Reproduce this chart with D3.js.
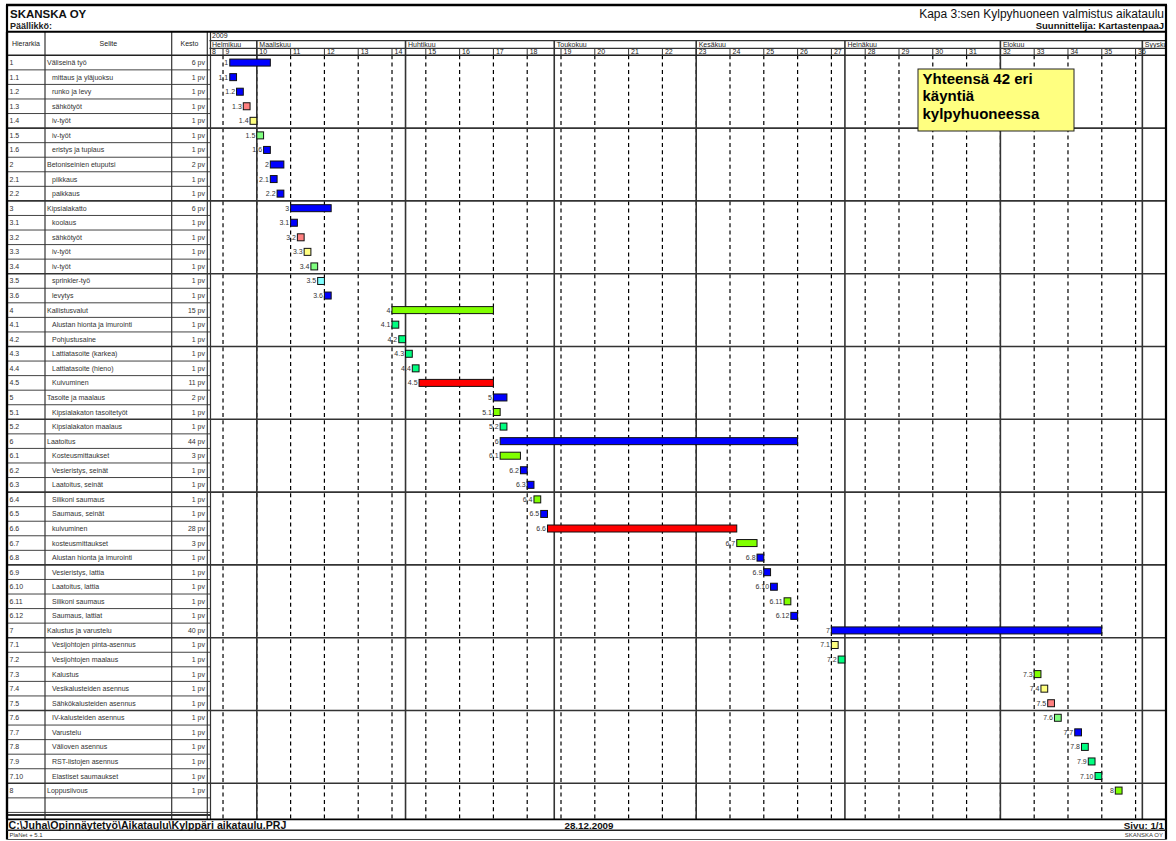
<!DOCTYPE html>
<html><head><meta charset="utf-8">
<script src="https://cdn.jsdelivr.net/npm/d3@7"></script>
<style>
body{margin:0;background:#fff}
text{font-family:"Liberation Sans",Arial,sans-serif}
</style>
</head><body>
<svg id="c" width="1176" height="841"></svg>
<script>
// ---------- data ----------
const ids = ["1","1.1","1.2","1.3","1.4","1.5","1.6","2","2.1","2.2","3","3.1","3.2","3.3","3.4","3.5","3.6",
  "4","4.1","4.2","4.3","4.4","4.5","5","5.1","5.2","6","6.1","6.2","6.3","6.4","6.5","6.6","6.7","6.8","6.9",
  "6.10","6.11","6.12","7","7.1","7.2","7.3","7.4","7.5","7.6","7.7","7.8","7.9","7.10","8"];
const descriptions = ["Väliseinä työ","mittaus ja yläjuoksu","runko ja levy","sähkötyöt","iv-työt","iv-työt",
  "eristys ja tuplaus","Betoniseinien etuputsi","piikkaus","paikkaus","Kipsialakatto","koolaus","sähkötyöt",
  "iv-työt","iv-työt","sprinkler-työ","levytys","Kallistusvalut","Alustan hionta ja imurointi","Pohjustusaine",
  "Lattiatasoite (karkea)","Lattiatasoite (hieno)","Kuivuminen","Tasoite ja maalaus","Kipsialakaton tasoitetyöt",
  "Kipsialakaton maalaus","Laatoitus","Kosteusmittaukset","Vesieristys, seinät","Laatoitus, seinät",
  "Silikoni saumaus","Saumaus, seinät","kuivuminen","kosteusmittaukset","Alustan hionta ja imurointi",
  "Vesieristys, lattia","Laatoitus, lattia","Silikoni saumaus","Saumaus, lattiat","Kalustus ja varustelu",
  "Vesijohtojen pinta-asennus","Vesijohtojen maalaus","Kalustus","Vesikalusteiden asennus",
  "Sähkökalusteiden asennus","IV-kalusteiden asennus","Varustelu","Välioven asennus","RST-listojen asennus",
  "Elastiset saumaukset","Loppusiivous"];
const durations = [6,1,1,1,1,1,1,2,1,1,6,1,1,1,1,1,1,15,1,1,1,1,11,2,1,1,44,3,1,1,1,1,28,3,1,1,1,1,1,40,
  1,1,1,1,1,1,1,1,1,1,1];
const startDates = ["2009-02-24","2009-02-24","2009-02-25","2009-02-26","2009-02-27","2009-03-02","2009-03-03",
  "2009-03-04","2009-03-04","2009-03-05","2009-03-09","2009-03-09","2009-03-10","2009-03-11","2009-03-12",
  "2009-03-13","2009-03-16","2009-03-30","2009-03-30","2009-03-31","2009-04-01","2009-04-02","2009-04-03",
  "2009-04-20","2009-04-20","2009-04-21","2009-04-21","2009-04-21","2009-04-24","2009-04-27","2009-04-28",
  "2009-04-29","2009-04-30","2009-06-09","2009-06-12","2009-06-15","2009-06-16","2009-06-18","2009-06-19",
  "2009-06-29","2009-06-29","2009-06-30","2009-08-10","2009-08-11","2009-08-12","2009-08-13","2009-08-18",
  "2009-08-19","2009-08-20","2009-08-21","2009-08-26"];
const barTypes = ["b","b","b","p","y","l","b","b","b","b","b","b","p","y","l","c","b",
  "g","s","s","s","s","r","b","g","s","b","g","b","b","g","b","r","g","b","b",
  "b","g","b","b","y","s","g","y","p","l","b","s","s","s","g"];
const typeKeys = ["b","r","g","s","p","y","l","c"];
const typeColors = ["#0000ff","#ff0000","#80ff00","#00ff80","#ff8080","#ffff80","#80ff80","#80ffff"];
const weeks = [8,9,10,11,12,13,14,15,16,17,18,19,20,21,22,23,24,25,26,27,28,29,30,31,32,33,34,35,36];
const monthNames = ["Helmikuu","Maaliskuu","Huhtikuu","Toukokuu","Kesäkuu","Heinäkuu","Elokuu","Syyskuu"];
const monthStarts = ["2009-02-01","2009-03-01","2009-04-01","2009-05-01","2009-06-01","2009-07-01","2009-08-01","2009-09-01"];
const noteLines = ["Yhteensä 42 eri","käyntiä","kylpyhuoneessa"];

// ---------- helpers ----------
const parse = d3.timeParse("%Y-%m-%d");
const base = new Date(2009,1,16); // Monday of week 8
function wd(date){ // working-day index since base
  const days = d3.timeDay.count(base, date);
  const w = Math.floor(days/7), r = ((days%7)+7)%7;
  return 5*w + Math.min(r,5);
}
const L=7, R=1166, T=5, B=839.5;
const colX=[L,45,171.7,207.3];
const chartL=209.5;
const yHead=31.7, yMonth=40.7, yWeek=48.3, yBody=55.3, rowH=14.56, yBodyEnd=819.3;

const x = d3.scaleLinear().domain([3,144.5]).range([chartL,R]);
const y = d3.scaleBand().domain(ids).range([yBody, yBody+ids.length*rowH]);
const color = d3.scaleOrdinal().domain(typeKeys).range(typeColors);

const svg = d3.select("#c");
svg.append("defs").append("clipPath").attr("id","hc").append("rect")
  .attr("x",chartL).attr("y",yHead).attr("width",R-chartL).attr("height",yBody-yHead);

// ---------- chart grid ----------
const g = svg.append("g");
weeks.slice(1).forEach(w=>{
  const xx = x((w-8)*5);
  g.append("line").attr("x1",xx).attr("x2",xx).attr("y1",yBody).attr("y2",yBodyEnd)
    .attr("stroke","#000").attr("stroke-width",1.2).attr("stroke-dasharray","4,3.3");
  g.append("line").attr("x1",xx).attr("x2",xx).attr("y1",yWeek).attr("y2",yBody)
    .attr("stroke","#333").attr("stroke-width",1);
});
const monthIdx = monthStarts.map(s=>Math.max(3,wd(parse(s))));
monthIdx.forEach((mi,i)=>{
  if(i===0) return;
  const xx = x(mi);
  g.append("line").attr("x1",xx).attr("x2",xx).attr("y1",yMonth).attr("y2",yBodyEnd)
    .attr("stroke","#333").attr("stroke-width",1.6);
});

// table rows thin lines
for(let i=1;i<=ids.length+1;i++){
  const yy = yBody+i*rowH;
  if(i%5===0 && i<=ids.length) continue;
  svg.append("line").attr("x1",L).attr("x2",chartL+1).attr("y1",yy).attr("y2",yy)
    .attr("stroke","#444").attr("stroke-width",1);
}
svg.append("line").attr("x1",L).attr("x2",chartL+1).attr("y1",815).attr("y2",815)
  .attr("stroke","#333").attr("stroke-width",1.8);
for(let i=5;i<=ids.length;i+=5){
  const yy = yBody+i*rowH;
  svg.append("line").attr("x1",L).attr("x2",R).attr("y1",yy).attr("y2",yy)
    .attr("stroke","#333").attr("stroke-width",1.6);
}

// table column lines
colX.forEach((cx,i)=>{
  svg.append("line").attr("x1",cx).attr("x2",cx).attr("y1",yHead).attr("y2",yBodyEnd)
    .attr("stroke",i===0?"#000":"#333").attr("stroke-width",i===0?2.2:1.2);
});
svg.append("line").attr("x1",chartL+1).attr("x2",chartL+1).attr("y1",yHead).attr("y2",yBodyEnd)
  .attr("stroke","#333").attr("stroke-width",1.2);

// header horizontal lines
svg.append("line").attr("x1",chartL).attr("x2",R).attr("y1",yMonth).attr("y2",yMonth).attr("stroke","#333").attr("stroke-width",1.2);
svg.append("line").attr("x1",chartL).attr("x2",R).attr("y1",yWeek).attr("y2",yWeek).attr("stroke","#333").attr("stroke-width",1.2);
svg.append("line").attr("x1",L).attr("x2",R).attr("y1",yBody).attr("y2",yBody).attr("stroke","#222").attr("stroke-width",1.6);

// header texts
const hdr = svg.append("g").attr("font-size",7).attr("fill","#222").attr("clip-path","url(#hc)");
hdr.append("text").attr("x",chartL+2.5).attr("y",38.3).text("2009");
monthNames.forEach((m,i)=>{
  hdr.append("text").attr("x",x(monthIdx[i])+2.5).attr("y",47).text(m);
});
weeks.forEach(w=>{
  hdr.append("text").attr("x",x(Math.max(3,(w-8)*5))+2.5).attr("y",54.4).text(w);
});
const th = svg.append("g").attr("font-size",7).attr("fill","#222").attr("text-anchor","middle");
th.append("text").attr("x",(colX[0]+colX[1])/2).attr("y",46).text("Hierarkia");
th.append("text").attr("x",(colX[1]+colX[2])/2).attr("y",46).text("Selite");
th.append("text").attr("x",(colX[2]+colX[3])/2).attr("y",46).text("Kesto");

// table body text
const tb = svg.append("g").attr("font-size",7).attr("fill","#333");
ids.forEach((id,i)=>{
  const cy = y(id)+y.bandwidth()/2+2.5;
  const top = id.indexOf(".")<0;
  tb.append("text").attr("x",9.5).attr("y",cy).text(id);
  tb.append("text").attr("x",top?47:52).attr("y",cy).text(descriptions[i]);
  tb.append("text").attr("x",205).attr("y",cy).attr("text-anchor","end").text(durations[i]+" pv");
});

// bars
const bars = svg.append("g");
ids.forEach((id,i)=>{
  const s = wd(parse(startDates[i]));
  const x0 = x(s), x1 = x(s+durations[i]);
  const yy = y(id)+(y.bandwidth()-7)/2;
  bars.append("rect").attr("x",x0).attr("y",yy).attr("width",x1-x0).attr("height",7)
    .attr("fill",color(barTypes[i])).attr("stroke","#111").attr("stroke-width",1);
  bars.append("text").attr("x",x0-1.5).attr("y",yy+6).attr("text-anchor","end")
    .attr("font-size",7).attr("fill","#333").text(id);
});

// note box
const nb = svg.append("g");
nb.append("rect").attr("x",918).attr("y",69).attr("width",156).attr("height",62)
  .attr("fill","#ffff80").attr("stroke","#222").attr("stroke-width",1);
noteLines.forEach((t,i)=>{
  nb.append("text").attr("x",922.5).attr("y",84+i*17.3).attr("font-size",15).attr("font-weight","bold")
    .attr("fill","#000").text(t);
});

// outer frame and header
svg.append("line").attr("x1",L-1).attr("x2",R+1).attr("y1",T).attr("y2",T).attr("stroke","#000").attr("stroke-width",2.5);
svg.append("line").attr("x1",L).attr("x2",R).attr("y1",yHead).attr("y2",yHead).attr("stroke","#000").attr("stroke-width",2);
svg.append("line").attr("x1",L).attr("x2",L).attr("y1",T).attr("y2",B).attr("stroke","#000").attr("stroke-width",2.2);
svg.append("line").attr("x1",R).attr("x2",R).attr("y1",T).attr("y2",B).attr("stroke","#000").attr("stroke-width",2.2);
svg.append("line").attr("x1",L).attr("x2",R).attr("y1",yBodyEnd).attr("y2",yBodyEnd).attr("stroke","#000").attr("stroke-width",1.8);
svg.append("line").attr("x1",L).attr("x2",R).attr("y1",830.3).attr("y2",830.3).attr("stroke","#222").attr("stroke-width",1.4);
svg.append("line").attr("x1",L).attr("x2",R).attr("y1",B).attr("y2",B).attr("stroke","#555").attr("stroke-width",1);

svg.append("text").attr("x",10).attr("y",17.5).attr("font-size",11.5).attr("font-weight","bold").attr("fill","#111").text("SKANSKA OY");
svg.append("text").attr("x",10).attr("y",29).attr("font-size",9).attr("font-weight","bold").attr("fill","#222").text("Päällikkö:");
svg.append("text").attr("x",R-2).attr("y",17.5).attr("font-size",12).attr("text-anchor","end").attr("fill","#111").text("Kapa 3:sen Kylpyhuoneen valmistus aikataulu");
svg.append("text").attr("x",R-2).attr("y",29).attr("font-size",9.5).attr("font-weight","bold").attr("text-anchor","end").attr("fill","#111").text("Suunnittelija: KartastenpaaJ");

// footer
svg.append("text").attr("x",8.5).attr("y",828.5).attr("font-size",10.6).attr("font-weight","bold").attr("fill","#111").text("C:\\Juha\\Opinnäytetyö\\Aikataulu\\Kylppäri aikataulu.PRJ");
svg.append("text").attr("x",589).attr("y",828.5).attr("font-size",9.8).attr("font-weight","bold").attr("text-anchor","middle").attr("fill","#111").text("28.12.2009");
svg.append("text").attr("x",R-2).attr("y",828.5).attr("font-size",9.8).attr("font-weight","bold").attr("text-anchor","end").attr("fill","#111").text("Sivu: 1/1");
svg.append("text").attr("x",9.5).attr("y",837).attr("font-size",6).attr("fill","#333").text("PlaNet + 5.1");
svg.append("text").attr("x",R-3).attr("y",837).attr("font-size",6).attr("text-anchor","end").attr("fill","#333").text("SKANSKA OY");
</script>
</body></html>
